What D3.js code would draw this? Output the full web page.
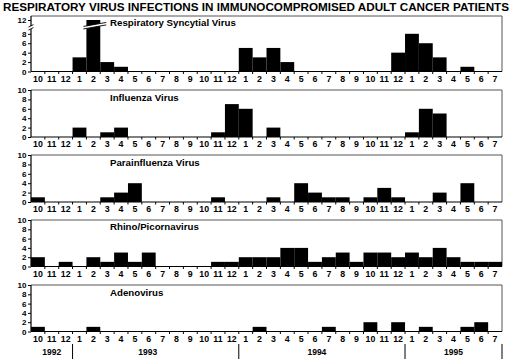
<!DOCTYPE html>
<html><head><meta charset="utf-8">
<script src="https://cdn.jsdelivr.net/npm/d3@7"></script>
<style>body{margin:0;background:#fff}svg{display:block}text{font-family:"Liberation Sans",Arial,sans-serif;font-weight:bold}</style>
</head><body><svg id="c" width="512" height="359"></svg>
<script>
const title = "RESPIRATORY VIRUS INFECTIONS IN IMMUNOCOMPROMISED ADULT CANCER PATIENTS";
const months = ["10","11","12","1","2","3","4","5","6","7","8","9","10","11","12","1","2","3","4","5","6","7","8","9","10","11","12","1","2","3","4","5","6","7"];
const years = [{label:"1992", start:0, end:3},{label:"1993", start:3, end:15},{label:"1994", start:15, end:27},{label:"1995", start:27, end:34}];
const virusNames = ["Respiratory Syncytial Virus","Influenza Virus","Parainfluenza Virus","Rhino/Picornavirus","Adenovirus"];
const rsv =   [0,0,0,3,12,2,1,0,0,0,0,0,0,0,0,5,3,5,2,0,0,0,0,0,0,0,4,8,6,3,0,1,0,0];
const flu =   [0,0,0,2,0,1,2,0,0,0,0,0,0,1,7,6,0,2,0,0,0,0,0,0,0,0,0,1,6,5,0,0,0,0];
const para =  [1,0,0,0,0,1,2,4,0,0,0,0,0,1,0,0,0,1,0,4,2,1,1,0,1,3,1,0,0,2,0,4,0,0];
const rhino = [2,0,1,0,2,1,3,1,3,0,0,0,0,1,1,2,2,2,4,4,1,2,3,1,3,3,2,3,2,4,2,1,1,1];
const adeno = [1,0,0,0,1,0,0,0,0,0,0,0,0,0,0,0,1,0,0,0,0,1,0,0,2,0,2,0,1,0,0,1,2,0];
const series = [rsv, flu, para, rhino, adeno];

const svg = d3.select("#c");
const x = d3.scaleBand().domain(d3.range(months.length)).range([31, 502]).padding(0);
const bw = x.bandwidth();

svg.append("text").attr("x", 3).attr("y", 11).attr("font-size", 11.5)
  .attr("textLength", 506).attr("lengthAdjust", "spacingAndGlyphs")
  .style("font-weight", "900").text(title);

const panels = [
  {top:16, bottom:71.5, domain:[0,8,12], range:[71.5,33.8,20], ticks:[0,2,4,6,8,12], labelY:26},
  {top:90, bottom:137, domain:[0,10], range:[137,90], ticks:[0,2,4,6,8,10], labelY:101},
  {top:155, bottom:202, domain:[0,10], range:[202,155], ticks:[0,2,4,6,8,10], labelY:166},
  {top:220, bottom:266.5, domain:[0,10], range:[266.5,220], ticks:[0,2,4,6,8,10], labelY:230},
  {top:285, bottom:331.5, domain:[0,10], range:[331.5,285], ticks:[0,2,4,6,8,10], labelY:296}
];

panels.forEach((p, i) => {
  const y = d3.scaleLinear().domain(p.domain).range(p.range);
  const g = svg.append("g");
  g.append("path").attr("d", `M31,${p.top}H502V${p.bottom}`).attr("fill","none").attr("stroke","#555").attr("stroke-width",1);
  g.selectAll("rect.bar").data(series[i]).join("rect")
    .attr("x", (d,j) => x(j)).attr("width", bw)
    .attr("y", d => y(d)).attr("height", d => y(0) - y(d))
    .attr("fill", "#000");
  const ya = d3.axisLeft(y).tickValues(p.ticks).tickSize(3).tickPadding(1.5).tickSizeOuter(0);
  const yg = g.append("g").attr("transform","translate(31,0)").call(ya);
  yg.selectAll("text").attr("font-size", 8).style("font-weight","bold");
  yg.select(".domain").attr("d", `M0,${p.top}V${p.bottom}`).attr("stroke-width",1.2);
  const xa = d3.axisBottom(x).tickFormat(j => months[j]).tickSize(0).tickPadding(4);
  const xg = g.append("g").attr("transform",`translate(0,${p.bottom})`).call(xa);
  xg.selectAll("text").attr("font-size", 8.8).style("font-weight","bold");
  xg.select(".domain").attr("d", "M31,0H502").attr("stroke-width",1.2);
  xg.selectAll("line.sep").data(d3.range(1, months.length)).join("line").attr("class","sep")
    .attr("x1", j => x(j)).attr("x2", j => x(j)).attr("y1", 0).attr("y2", 2.5).attr("stroke","#000");
  g.append("text").attr("x", 110).attr("y", p.labelY).attr("font-size", 9.7).text(virusNames[i]);
  if (i === 0) {
    const bx = x(4);
    const by = y(11);
    g.append("path").attr("d", `M${bx-2},${by+3}L${bx+bw+5},${by-1}L${bx+bw+5},${by+1.5}L${bx-2},${by+5.5}Z`).attr("fill","#fff");
    g.append("path").attr("d", `M${bx-3},${by+3}L${bx+bw+6},${by-1}M${bx-3},${by+5.5}L${bx+bw+6},${by+1.5}`).attr("stroke","#000").attr("stroke-width",0.9);
    const ay = y(9.8);
    g.append("rect").attr("x", 29).attr("y", ay-1.5).attr("width", 4).attr("height", 3).attr("fill","#fff");
    g.append("path").attr("d", `M28.5,${ay-0.5}L33.5,${ay-3}M28.5,${ay+2.5}L33.5,${ay}`).attr("stroke","#000").attr("stroke-width",0.9);
  }
});

// year separators & labels (labels sit slightly left of span centre, as in the original)
const yrTop = 344;
const yrShift = [0, -8, -5, 0];
years.forEach((yr, k) => {
  if (k > 0) svg.append("line").attr("x1", x(yr.start)).attr("x2", x(yr.start)).attr("y1", yrTop).attr("y2", 359).attr("stroke","#000");
  const xe = yr.end < months.length ? x(yr.end) : 502;
  svg.append("text").attr("x", (x(yr.start) + xe)/2 + yrShift[k]).attr("y", 354.5).attr("text-anchor","middle").attr("font-size", 8.5).text(yr.label);
});
svg.append("line").attr("x1", 502).attr("x2", 502).attr("y1", yrTop).attr("y2", 359).attr("stroke","#000");
</script></body></html>
